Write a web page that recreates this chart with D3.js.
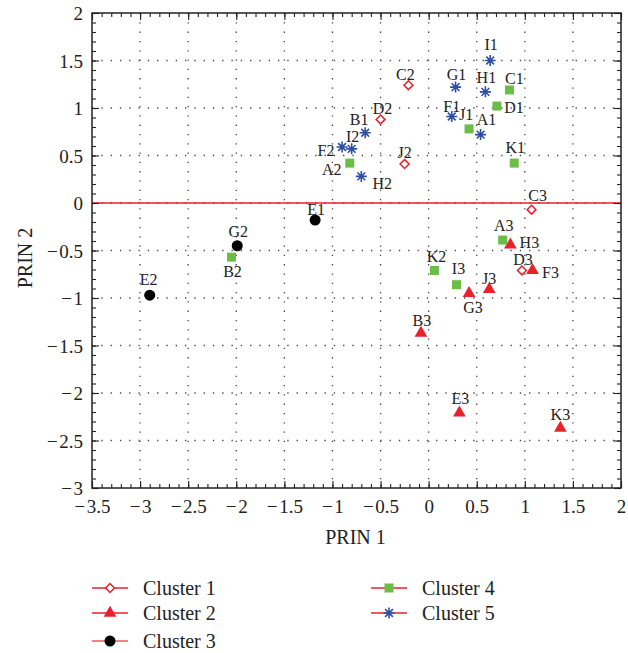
<!DOCTYPE html>
<html>
<head>
<meta charset="utf-8">
<title>PRIN 1 vs PRIN 2</title>
<script src="https://d3js.org/d3.v7.min.js"></script>
<style>
  body { margin: 0; background: #fff; }
  svg { display: block; font-family: "Liberation Serif", "DejaVu Serif", serif; }
  .tick text { font-family: "Liberation Serif", serif; }
</style>
</head>
<body>
<script>
// ---- data ----
var clusterNames = ["Cluster 1", "Cluster 2", "Cluster 3", "Cluster 4", "Cluster 5"];

var pointNames = ["C2", "D2", "J2", "C3", "D3",
                  "H3", "F3", "J3", "G3", "B3", "E3", "K3",
                  "E1", "G2", "E2",
                  "C1", "D1", "J1", "K1", "A2", "B2", "A3", "K2", "I3",
                  "I1", "G1", "H1", "F1", "A1", "B1", "I2", "F2", "H2"];
var prin1 = [-0.21, -0.50, -0.25, 1.07, 0.97,
             0.85, 1.08, 0.63, 0.42, -0.08, 0.32, 1.37,
             -1.18, -1.99, -2.90,
             0.84, 0.71, 0.42, 0.89, -0.82, -2.05, 0.77, 0.06, 0.29,
             0.64, 0.28, 0.59, 0.24, 0.54, -0.66, -0.80, -0.90, -0.70];
var prin2 = [1.24, 0.88, 0.41, -0.07, -0.71,
             -0.44, -0.71, -0.91, -0.95, -1.37, -2.21, -2.37,
             -0.18, -0.45, -0.97,
             1.19, 1.02, 0.78, 0.42, 0.42, -0.57, -0.39, -0.71, -0.86,
             1.50, 1.22, 1.17, 0.91, 0.72, 0.74, 0.57, 0.59, 0.28];
var clusterOf = [1, 1, 1, 1, 1,
                 2, 2, 2, 2, 2, 2, 2,
                 3, 3, 3,
                 4, 4, 4, 4, 4, 4, 4, 4, 4,
                 5, 5, 5, 5, 5, 5, 5, 5, 5];

var xMajor = d3.range(-3.5, 2.001, 0.5);
var yMajor = d3.range(-3, 2.001, 0.5);

// label placement (offset of label centre from marker, px)
var labelOffset = {
  C2: [-3, -11], D2: [2, -11], J2: [0, -12], C3: [6, -14], D3: [1, -11],
  H3: [19, -2], F3: [18, 2], J3: [0, -11], G3: [4, 14], B3: [1, -13], E3: [1, -15], K3: [0, -14],
  E1: [1, -11], G2: [1, -14], E2: [-1, -16],
  C1: [5, -12], D1: [17, 1], J1: [-3, -15], K1: [1, -16], A2: [-18, 6], B2: [1, 14],
  A3: [1, -15], K2: [2, -14], I3: [2, -16],
  I1: [1, -16], G1: [1, -13], H1: [1, -14], F1: [0, -10], A1: [6, -15],
  B1: [-6, -13], I2: [1, -12], F2: [-16, 3], H2: [21, 7]
};

// ---- layout ----
var W = 628, H = 653;
var margin = {left: 92, right: 7, top: 13, bottom: 165};
var red = "#e8212b", green = "#6abd45", blue = "#2d4fa3";

var svg = d3.select("body").append("svg")
  .attr("width", W).attr("height", H);

var x = d3.scaleLinear().domain([-3.5, 2]).range([margin.left, W - margin.right]);
var y = d3.scaleLinear().domain([-3, 2]).range([H - margin.bottom, margin.top]);

var x0 = x.range()[0], x1 = x.range()[1], y0 = y.range()[1], y1 = y.range()[0];

// dotted grid at major ticks
var grid = svg.append("g").attr("stroke", "#444").attr("stroke-width", 1.3)
  .attr("stroke-dasharray", "1.3,8");
grid.selectAll(".gx").data(xMajor.slice(1, -1)).enter().append("line")
  .attr("x1", function(d){ return x(d); }).attr("x2", function(d){ return x(d); })
  .attr("y1", y0).attr("y2", y1);
grid.selectAll(".gy").data(yMajor.slice(1, -1)).enter().append("line")
  .attr("y1", function(d){ return y(d); }).attr("y2", function(d){ return y(d); })
  .attr("x1", x0).attr("x2", x1);

// zero reference line
svg.append("line")
  .attr("x1", x0).attr("x2", x1).attr("y1", y(0)).attr("y2", y(0))
  .attr("stroke", red).attr("stroke-width", 1.5);

// axes, ticks inward on all four sides
var minorX = d3.range(-35, 21).map(function(d){ return d / 10; });
var minorY = d3.range(-30, 21).map(function(d){ return d / 10; });
var fmt = function(d){ return d3.format("~g")(d).replace("\u2212", "\u2212\u200A"); };

function drawAxis(axisFn, scale, pos, vals, size, labels) {
  var g = svg.append("g")
    .attr("transform", pos)
    .call(axisFn(scale).tickValues(vals).tickSize(-size).tickPadding(labels ? 12 : 0)
      .tickFormat(labels ? fmt : ""));
  g.select(".domain").remove();
  g.selectAll(".tick line").attr("stroke", "#222").attr("stroke-width", 1.1);
  g.selectAll(".tick text").attr("font-size", 19).attr("fill", "#222");
  return g;
}

drawAxis(d3.axisBottom, x, "translate(0," + y1 + ")", minorX, 4, false);
drawAxis(d3.axisBottom, x, "translate(0," + y1 + ")", xMajor, 7, true)
  .selectAll(".tick text").attr("y", 12);
drawAxis(d3.axisTop, x, "translate(0," + y0 + ")", minorX, 4, false);
drawAxis(d3.axisTop, x, "translate(0," + y0 + ")", xMajor, 7, false);
drawAxis(d3.axisLeft, y, "translate(" + x0 + ",0)", minorY, 4, false);
drawAxis(d3.axisLeft, y, "translate(" + x0 + ",0)", yMajor, 7, true)
  .selectAll(".tick text").attr("x", -9).attr("dy", "0.35em");
drawAxis(d3.axisRight, y, "translate(" + x1 + ",0)", minorY, 4, false);
drawAxis(d3.axisRight, y, "translate(" + x1 + ",0)", yMajor, 7, false);

// frame
svg.append("rect")
  .attr("x", x0).attr("y", y0).attr("width", x1 - x0).attr("height", y1 - y0)
  .attr("fill", "none").attr("stroke", "#222").attr("stroke-width", 1.5);

// axis titles
svg.append("text")
  .attr("x", (x0 + x1) / 2 - 1).attr("y", 544)
  .attr("text-anchor", "middle").attr("font-size", 20).attr("fill", "#222")
  .text("PRIN 1");
svg.append("text")
  .attr("transform", "translate(32,258) rotate(-90)")
  .attr("text-anchor", "middle").attr("font-size", 20).attr("fill", "#222")
  .text("PRIN 2");

// marker drawing
function drawMarker(sel, c) {
  if (c === 1) {
    sel.append("path").attr("d", d3.symbol(d3.symbolDiamond2, 50)())
      .attr("fill", "#fff").attr("stroke", red).attr("stroke-width", 1.5);
  } else if (c === 2) {
    sel.append("path").attr("d", d3.symbol(d3.symbolTriangle, 70)())
      .attr("fill", red);
  } else if (c === 3) {
    sel.append("circle").attr("r", 5.5).attr("fill", "#000");
  } else if (c === 4) {
    sel.append("rect").attr("x", -4.5).attr("y", -4.5).attr("width", 9).attr("height", 9)
      .attr("fill", green);
  } else {
    var r = 5.5, q = r * Math.SQRT1_2;
    sel.append("path")
      .attr("d", "M0," + (-r) + "V" + r + "M" + (-r) + ",0H" + r +
                 "M" + (-q) + "," + (-q) + "L" + q + "," + q +
                 "M" + (-q) + "," + q + "L" + q + "," + (-q))
      .attr("stroke", blue).attr("stroke-width", 1.6).attr("fill", "none");
  }
}

// points
var pts = pointNames.map(function(n, i){
  return {name: n, px: prin1[i], py: prin2[i], c: clusterOf[i]};
});

var pg = svg.append("g").selectAll("g").data(pts).enter().append("g")
  .attr("transform", function(d){ return "translate(" + x(d.px) + "," + y(d.py) + ")"; });
pg.each(function(d){ drawMarker(d3.select(this), d.c); });

pg.append("text")
  .attr("x", function(d){ return labelOffset[d.name][0]; })
  .attr("y", function(d){ return labelOffset[d.name][1]; })
  .attr("dy", "0.35em")
  .attr("text-anchor", "middle")
  .attr("font-size", 16).attr("fill", "#222")
  .text(function(d){ return d.name; });

// legend
var legX = [92, 371], legY = [588, 613, 641];
var lg = svg.append("g").selectAll("g").data(clusterNames).enter().append("g")
  .attr("transform", function(d, i){
    return "translate(" + legX[i < 3 ? 0 : 1] + "," + legY[i < 3 ? i : i - 3] + ")";
  });
lg.append("line").attr("x1", 0).attr("x2", 36)
  .attr("stroke", function(d, i){ return i === 2 ? "#ee5a5e" : red; })
  .attr("stroke-width", 1.3);
lg.each(function(d, i){
  var m = d3.select(this).append("g").attr("transform", "translate(18,0)");
  drawMarker(m, i + 1);
});
lg.append("text").attr("x", 51).attr("dy", "0.35em")
  .attr("font-size", 20).attr("fill", "#222")
  .text(function(d){ return d; });
</script>
</body>
</html>
